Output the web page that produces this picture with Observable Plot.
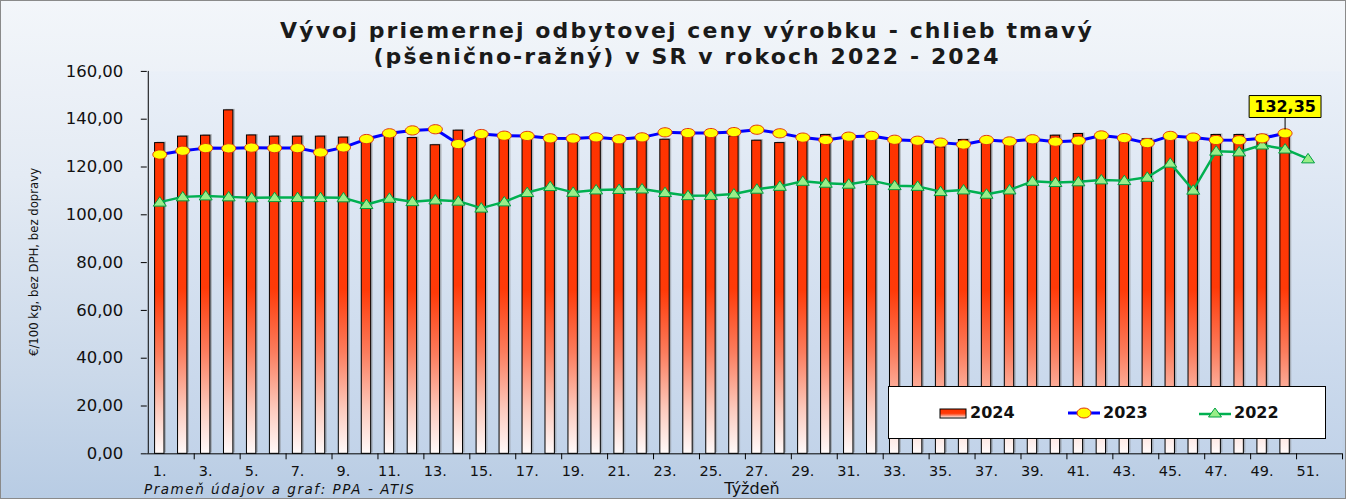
<!DOCTYPE html>
<html>
<head>
<meta charset="utf-8">
<script src="https://cdn.jsdelivr.net/npm/d3@7"></script>
<script src="https://cdn.jsdelivr.net/npm/@observablehq/plot@0.6"></script>
<style>
  html, body { margin: 0; padding: 0; }
  body { width: 1346px; height: 499px; overflow: hidden; font-family: "DejaVu Sans", sans-serif; }
  #wrap { position: relative; width: 1346px; height: 499px; box-sizing: border-box; border: 1px solid #8a8a8a;
    background: linear-gradient(to bottom, #f3f6fa 0%, #e4ebf4 35%, #cbd9ea 75%, #b8cce4 100%); }
  #chart { position: absolute; left: 0; top: 0; }
  .title { position: absolute; left: 26px; width: 1320px; text-align: center; font-weight: bold; font-size: 22px; letter-spacing: 2.1px; color: #1a1a1a; }
  #ylab { position: absolute; left: 32px; top: 261px; transform: translate(-50%, -50%) rotate(-90deg); white-space: nowrap;
    font-family: "DejaVu Sans Condensed", "DejaVu Sans", sans-serif; font-size: 13px; color: #111; }
  #src { position: absolute; left: 143px; top: 480px; font-style: italic; font-size: 13.5px; letter-spacing: 1.55px; color: #111; }
  #xlab { position: absolute; left: 751px; top: 478px; transform: translateX(-50%); font-size: 16px; color: #111; }
  #legend { position: absolute; left: 887px; top: 385px; width: 438px; height: 53px; box-sizing: border-box;
    background: #fff; border: 1px solid #000; font-weight: bold; font-size: 16px; color: #111; }
  .li { position: absolute; top: 16px; display: flex; align-items: center; }
  .li svg { margin-right: 3px; }
</style>
</head>
<body>
<svg width="0" height="0" style="position:absolute">
  <defs>
    <linearGradient id="plotBg" x1="0" y1="0" x2="0" y2="1">
      <stop offset="0" stop-color="#eaf0f8"/>
      <stop offset="1" stop-color="#c2d3e9"/>
    </linearGradient>
    <linearGradient id="barGrad" x1="0" y1="0" x2="0" y2="1">
      <stop offset="0" stop-color="#ff3300"/>
      <stop offset="0.48" stop-color="#ff3a08"/>
      <stop offset="0.68" stop-color="#fb7d5e"/>
      <stop offset="0.86" stop-color="#fccabd"/>
      <stop offset="1" stop-color="#fffafa"/>
    </linearGradient>
  </defs>
</svg>
<div id="wrap">
  <div class="title" style="top:17px">Vývoj priemernej odbytovej ceny výrobku - chlieb tmavý</div>
  <div class="title" style="top:43px">(pšenično-ražný) v SR v rokoch 2022 - 2024</div>
  <div id="chart"></div>
  <div id="ylab">€/100 kg, bez DPH, bez dopravy</div>
  <div id="src">Prameň údajov a graf: PPA - ATIS</div>
  <div id="xlab">Týždeň</div>
  <div id="legend">
    <div class="li" style="left:50px">
      <svg width="28" height="12"><rect x="1" y="2" width="26" height="9" fill="url(#barGrad)" stroke="#000" stroke-width="1"/></svg>2024
    </div>
    <div class="li" style="left:179px">
      <svg width="32" height="14"><line x1="0" y1="7" x2="32" y2="7" stroke="#0000ff" stroke-width="3"/><ellipse cx="16" cy="7" rx="7" ry="5" fill="#ffff00" stroke="#e03010"/></svg>2023
    </div>
    <div class="li" style="left:310px">
      <svg width="32" height="14"><line x1="0" y1="8" x2="32" y2="8" stroke="#00b050" stroke-width="2.5"/><path d="M16,2 L22.5,11 L9.5,11 Z" fill="#99ee88" stroke="#00a040"/></svg>2022
    </div>
  </div>
</div>
<script>
// ---- data ----
const weeks = d3.range(1, 53);
const labelWeeks = d3.range(1, 52, 2);
const tickWeeks = d3.range(2, 53, 2);
const yTicks = [0, 20, 40, 60, 80, 100, 120, 140, 160];

const weeks2024 = d3.range(1, 51);
const values2024 = [130.0, 132.7, 133.1, 143.7, 133.2, 132.7, 132.7, 132.7, 132.3, 131.4,
  133.8, 132.1, 129.1, 135.2, 133.5, 132.4, 131.4, 131.5, 131.5, 131.5,
  131.0, 131.5, 131.4, 133.8, 133.8, 132.7, 131.0, 130.0, 131.5, 133.4,
  132.5, 132.8, 131.0, 130.5, 128.2, 131.3, 131.0, 130.5, 131.3, 133.1,
  133.8, 133.0, 131.8, 131.6, 132.8, 132.0, 133.4, 133.4, 133.4, 132.35];

const weeks2023 = d3.range(1, 51);
const values2023 = [125.2, 126.8, 127.9, 127.8, 128.1, 127.9, 127.9, 126.1, 128.2, 131.7,
  134.1, 135.3, 135.8, 129.6, 133.8, 133.1, 133.0, 132.0, 131.9, 132.4,
  131.6, 132.4, 134.5, 134.2, 134.2, 134.6, 135.6, 134.1, 132.3, 131.3,
  132.7, 133.0, 131.4, 131.0, 130.2, 129.4, 131.3, 130.7, 131.6, 130.6,
  131.0, 133.2, 132.1, 130.0, 133.0, 132.3, 131.3, 131.2, 132.0, 134.1];

const weeks2022 = d3.range(1, 52);
const values2022 = [105.3, 107.5, 107.9, 107.5, 107.1, 107.2, 107.2, 107.2, 107.1, 104.3,
  106.9, 105.5, 106.2, 105.7, 102.8, 105.4, 109.3, 111.8, 109.4, 110.4,
  110.6, 110.8, 109.3, 108.0, 108.1, 108.7, 110.7, 111.9, 114.0, 113.2,
  112.8, 114.3, 112.2, 111.9, 109.7, 110.4, 108.6, 110.4, 114.0, 113.5,
  113.8, 114.6, 114.3, 115.7, 121.6, 110.3, 126.6, 126.3, 129.2, 127.5,
  123.4];

const lastLabel = [{week: 50, value: 132.35, text: "132,35"}];

// ---- build ----
const d2024 = weeks2024.map((w, i) => ({week: w, value: values2024[i]}));
const d2023 = weeks2023.map((w, i) => ({week: w, value: values2023[i]}));
const d2022 = weeks2022.map((w, i) => ({week: w, value: values2022[i]}));

const W = 1346, H = 499, mL = 146, mR = 3, mT = 70, mB = 46;
const bw = (W - mL - mR) / weeks.length;

const ellipseSym = {draw(ctx) {
  const rx = 7, ry = 4.6, k = 0.5523;
  ctx.moveTo(rx, 0);
  ctx.bezierCurveTo(rx, ry * k, rx * k, ry, 0, ry);
  ctx.bezierCurveTo(-rx * k, ry, -rx, ry * k, -rx, 0);
  ctx.bezierCurveTo(-rx, -ry * k, -rx * k, -ry, 0, -ry);
  ctx.bezierCurveTo(rx * k, -ry, rx, -ry * k, rx, 0);
  ctx.closePath();
}};
const triSym = {draw(ctx) {
  ctx.moveTo(0, -5.5); ctx.lineTo(6.5, 4); ctx.lineTo(-6.5, 4); ctx.closePath();
}};
const boxSym = {draw(ctx) {
  ctx.moveTo(-36, -11); ctx.lineTo(36, -11); ctx.lineTo(36, 11); ctx.lineTo(-36, 11); ctx.closePath();
}};
const leaderSym = {draw(ctx) { ctx.moveTo(0, -8); ctx.lineTo(0, -20); }};

const fmt = d => d.toFixed(2).replace(".", ",");

const chart = Plot.plot({
  width: W, height: H,
  marginLeft: mL, marginRight: mR, marginTop: mT, marginBottom: mB,
  style: {background: "transparent", fontFamily: "DejaVu Sans, sans-serif", color: "#111", overflow: "visible"},
  x: {type: "band", domain: weeks, padding: 0, axis: null},
  y: {domain: [0, 160], axis: null},
  marks: [
    Plot.frame({fill: "url(#plotBg)", stroke: "none"}),
    Plot.barY(d2024, {x: "week", y: "value", fill: "#7a7a7a", fillOpacity: 0.45, insetLeft: 6.8, insetRight: 6.8, dx: 2, dy: -1}),
    Plot.barY(d2024, {x: "week", y: "value", fill: "url(#barGrad)", stroke: "#000", strokeWidth: 1, insetLeft: 6.8, insetRight: 6.8}),
    Plot.line(d2022, {x: "week", y: "value", stroke: "#00b050", strokeWidth: 2.5}),
    Plot.dot(d2022, {x: "week", y: "value", symbol: triSym, fill: "#99ee88", stroke: "#00a040", strokeWidth: 1}),
    Plot.line(d2023, {x: "week", y: "value", stroke: "#0000ff", strokeWidth: 3}),
    Plot.dot(d2023, {x: "week", y: "value", symbol: ellipseSym, fill: "#ffff00", stroke: "#e03010", strokeWidth: 1}),
    Plot.dot(lastLabel, {x: "week", y: "value", symbol: leaderSym, stroke: "#000", strokeWidth: 1, fill: "none"}),
    Plot.dot(lastLabel, {x: "week", y: "value", symbol: boxSym, fill: "#ffff00", stroke: "#000", strokeWidth: 1, dy: -31}),
    Plot.text(lastLabel, {x: "week", y: "value", text: "text", dy: -31, fontWeight: "bold", fontSize: 16, fill: "#000"}),
    Plot.ruleY([0], {stroke: "#000"}),
    Plot.ruleX([1], {dx: -bw / 2, stroke: "#000"}),
    Plot.axisY({ticks: yTicks, tickFormat: fmt, tickSize: 6, tickPadding: 18, fontSize: 16.5, label: null, stroke: "#000"}),
    Plot.axisX({ticks: labelWeeks, tickSize: 0, tickPadding: 12, tickFormat: d => d + ".", fontSize: 14.5, label: null}),
    Plot.axisX({ticks: tickWeeks, tickSize: 6, tickFormat: () => "", dx: bw / 2, label: null, stroke: "#000"})
  ]
});
document.getElementById("chart").appendChild(chart);
</script>
</body>
</html>
